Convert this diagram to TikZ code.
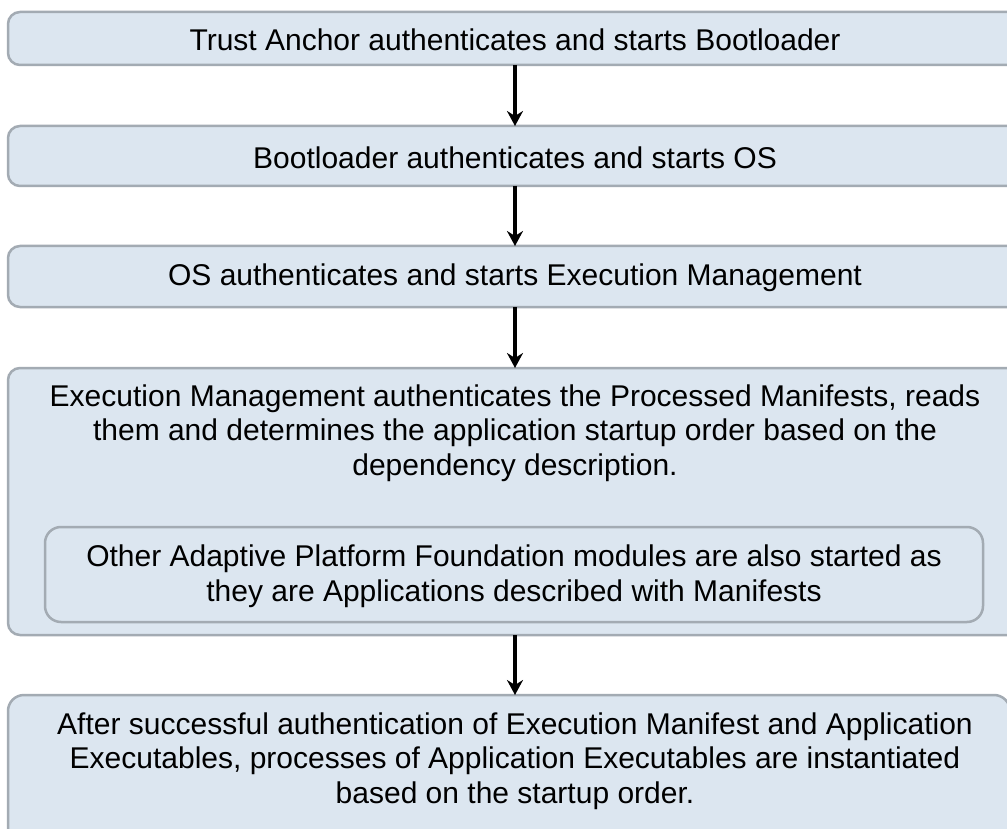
\documentclass[tikz,border=0pt]{standalone}
\usepackage{fontspec}
\setmainfont{Liberation Sans}
\usetikzlibrary{arrows.meta}
\definecolor{boxfill}{HTML}{DCE6F0}
\definecolor{boxline}{HTML}{A3ABB3}
\begin{document}
\begin{tikzpicture}[x=1pt,y=-1pt,
  box/.style={draw=boxline, fill=boxfill, line width=2.5pt, rounded corners=12pt, inner sep=0pt, outer sep=0pt},
  txt/.style={align=center, inner sep=0pt, font=\fontsize{30}{34.5}\selectfont},
  flow/.style={line width=3.4pt, -{Stealth[length=15pt,width=16pt,inset=5pt]}}]
\useasboundingbox (0,0) rectangle (1007,829);
\clip (0,0) rectangle (1007,829);
\node[box, minimum width=1014pt, minimum height=53pt] (b1) at (515,38.5) {};
\node[txt] (t1) at (515,40) {Trust Anchor authenticates and starts Bootloader};
\node[box, minimum width=1014pt, minimum height=60pt] (b2) at (515,156) {};
\node[txt] (t2) at (515,157.5) {Bootloader authenticates and starts OS};
\node[box, minimum width=1014pt, minimum height=61pt] (b3) at (515,276.5) {};
\node[txt] (t3) at (515,278) {OS authenticates and starts Execution Management};
\node[box, minimum width=1014pt, minimum height=267pt] (b4) at (515,501.5) {};
\node[txt] (t4) at (515,433) {Execution Management authenticates the Processed Manifests, reads\\them and determines the application startup order based on the\\dependency description.};
\node[box, rounded corners=16pt, minimum width=938pt, minimum height=95pt] (b4i) at (514,574.5) {};
\node[txt] (t4i) at (514,576) {Other Adaptive Platform Foundation modules are also started as\\they are Applications described with Manifests};
\node[box, rounded corners=16pt, minimum width=1002pt, minimum height=150pt] (b5) at (509,770) {};
\node[txt] (t5) at (515,761) {After successful authentication of Execution Manifest and Application\\Executables, processes of Application Executables are instantiated\\based on the startup order.};
\draw[flow] (b1.south) -- (b2.north);
\draw[flow] (b2.south) -- (b3.north);
\draw[flow] (b3.south) -- (b4.north);
\draw[flow] (b4.south) -- (b5.north -| b4.south);
\end{tikzpicture}
\end{document}
